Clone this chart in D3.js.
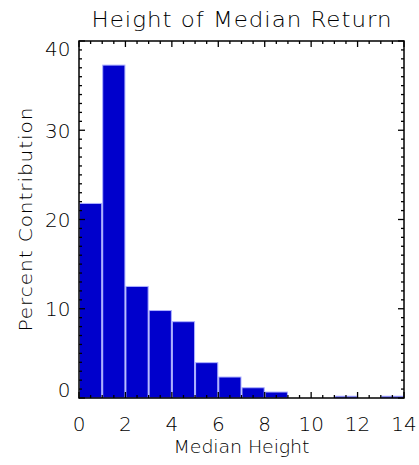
<!DOCTYPE html>
<html>
<head>
<meta charset="utf-8">
<script src="https://cdn.jsdelivr.net/npm/d3@7"></script>
<style>
  html, body { margin: 0; padding: 0; background: #fff; }
  svg { display: block; }
  text { font-family: "DejaVu Sans", sans-serif; font-weight: 200; fill: #000; }
</style>
</head>
<body>
<svg id="chart" width="419" height="465"></svg>
<script>
// Histogram bins (left edges) and the percent contribution of each bin
const binEdges = [0, 1, 2, 3, 4, 5, 6, 7, 8, 9, 10, 11, 12, 13];
const percents = [21.8, 37.3, 12.5, 9.8, 8.55, 3.96, 2.35, 1.15, 0.67, 0, 0, 0.2, 0, 0.2];
const binWidth = 1;
const xTicks = [0, 2, 4, 6, 8, 10, 12, 14];
const yTicks = [0, 10, 20, 30, 40];

const titleText = "Height of Median Return";
const xTitle = "Median Height";
const yTitle = "Percent Contribution";

const svg = d3.select("#chart");
const m = { left: 79, right: 404, top: 41, bottom: 398 };

const x = d3.scaleLinear().domain([0, 14]).range([m.left, m.right]);
const y = d3.scaleLinear().domain([0, 40]).range([m.bottom, m.top]);

// Bars
svg.append("g")
  .selectAll("rect")
  .data(binEdges.map((e, i) => ({ x0: e, x1: e + binWidth, v: percents[i] })).filter(d => d.v > 0))
  .join("rect")
  .attr("x", d => x(d.x0) + 0.5)
  .attr("width", d => x(d.x1) - x(d.x0) - 1)
  .attr("y", d => y(d.v))
  .attr("height", d => y(0) - y(d.v))
  .attr("fill", "#0000cc")
  .attr("stroke", "#aeb2ff")
  .attr("stroke-width", 1);

// Inward ticks on all four sides
const majorLen = 6, minorLen = 3;
const xMinor = d3.range(0, 14.001, 0.5).filter(v => !xTicks.includes(v));
const yMinor = d3.range(0, 40.001, 1).filter(v => !yTicks.includes(v));

const axisG = svg.append("g").attr("stroke", "#000").attr("stroke-width", 1.3);

function xTickLines(vals, len) {
  vals.forEach(v => {
    axisG.append("line").attr("x1", x(v)).attr("x2", x(v)).attr("y1", m.bottom).attr("y2", m.bottom - len);
    axisG.append("line").attr("x1", x(v)).attr("x2", x(v)).attr("y1", m.top).attr("y2", m.top + len);
  });
}
function yTickLines(vals, len) {
  vals.forEach(v => {
    axisG.append("line").attr("y1", y(v)).attr("y2", y(v)).attr("x1", m.left).attr("x2", m.left + len);
    axisG.append("line").attr("y1", y(v)).attr("y2", y(v)).attr("x1", m.right).attr("x2", m.right - len);
  });
}
xTickLines(xTicks, majorLen);
xTickLines(xMinor, minorLen);
yTickLines(yTicks, majorLen);
yTickLines(yMinor, minorLen);

axisG.append("rect")
  .attr("x", m.left).attr("y", m.top)
  .attr("width", m.right - m.left).attr("height", m.bottom - m.top)
  .attr("fill", "none").attr("stroke-width", 1.5);

// Tick labels
const labelSize = 20;
svg.append("g").selectAll("text").data(xTicks).join("text")
  .attr("x", d => x(d)).attr("y", 431)
  .attr("text-anchor", "middle").attr("font-size", labelSize)
  .text(d => d);

// y labels are centred on their tick but kept inside the axis span
const capH = 0.73 * labelSize;
svg.append("g").selectAll("text").data(yTicks).join("text")
  .attr("x", 70.5)
  .attr("y", d => {
    const c = Math.max(m.top + capH / 2 + 0.5, Math.min(m.bottom - capH / 2 - 1, y(d)));
    return c + capH / 2;
  })
  .attr("text-anchor", "end").attr("font-size", labelSize)
  .text(d => d);

// Titles: the stroke font is wide, so the text is stretched horizontally
const stretch = 1.12;
svg.append("text")
  .attr("transform", `translate(${(m.left + m.right) / 2}, 27.3) scale(${stretch}, 1)`)
  .attr("text-anchor", "middle").attr("font-size", 20.5)
  .attr("textLength", 300 / stretch).attr("lengthAdjust", "spacing")
  .text(titleText);

svg.append("text")
  .attr("transform", `translate(${(m.left + m.right) / 2}, 453) scale(${stretch}, 1)`)
  .attr("text-anchor", "middle").attr("font-size", 17)
  .attr("textLength", 136 / stretch).attr("lengthAdjust", "spacing")
  .text(xTitle);

svg.append("text")
  .attr("transform", `translate(32, ${(m.top + m.bottom) / 2}) rotate(-90) scale(${stretch}, 1)`)
  .attr("text-anchor", "middle").attr("font-size", 18)
  .attr("textLength", 224 / stretch).attr("lengthAdjust", "spacing")
  .text(yTitle);
</script>
</body>
</html>
